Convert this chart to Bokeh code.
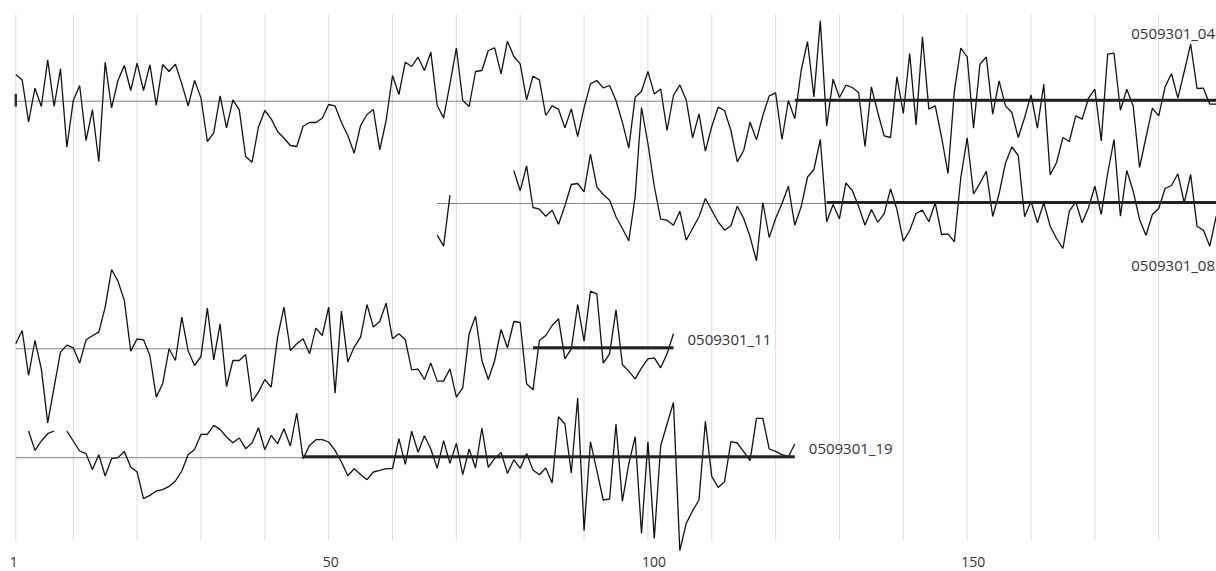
import numpy as np
from bokeh.plotting import figure
from bokeh.models import Range1d
from bokeh.embed import file_html
from bokeh.resources import INLINE
from bokeh.core.properties import value

nan = float("nan")

# ---------------- data ----------------
series_names = ["0509301_04", "0509301_08", "0509301_11", "0509301_19"]
series_first_index = [1, 67, 1, 3]          # first sample index of each series
phase_start = [123, 128, 82, 46]            # start of the second phase (thick line)
baseline_start = [1, 67, 1, 1]
baseline_end = [189.05, 189.05, 104, 123]

s04 = [26.7, 21.3, -20.7, 13, -5.3, 41.3, -5.3, 32.3, -46, 0.7,
       15.7, -39.3, -8.7, -60.3, 39, -6.7, 20.7, 35.7, 10.7, 38,
       10.7, 36.3, -4, 36.7, 29.7, 37, 17.3, -4.7, 20.7, 3.3,
       -40.3, -31.7, 5.3, -26.7, 1.3, -8.7, -55.3, -61, -26, -9.3,
       -17.7, -30.3, -37, -44.3, -45.3, -25, -21.3, -21.3, -17, -3.3,
       -4.7, -21.3, -34.3, -52, -24.3, -13.3, -8.3, -48.7, -19.3, 25.7,
       6.7, 39, 34.7, 44, 30.7, 49, -4.3, -16.7, 17.3, 53,
       0.7, -5.3, 29.7, 30.7, 50.7, 53.3, 27.3, 60, 44.7, 37.3,
       1.3, 25, 21.3, -14.3, -4.7, -8, -26.7, -7.7, -35.3, -6.7,
       17.3, 20.7, 13.3, 15.7, 0.7, -21, -47, 4, 10, 29.7,
       7.3, 12.3, -29.3, 5.7, 16.3, 1.3, -36.7, -12.7, -50, -25.3,
       -6, -9.3, -29.3, -60.7, -49.3, -21, -38.7, -14.3, 5.3, 8.3,
       -38.3, 0.7, -17.7, 30.7, 59.7, 4.3, 80.3, -24.7, 22, 3.7,
       16, 13.7, 8.7, -45.3, 14.3, -11.3, -34.7, -36.3, 24.3, -12.3,
       47.7, -23.7, 64.3, -8, -4.7, -36.3, -72.3, 10.3, 53, 44.3,
       -27, 37, 44.3, -13, 20.3, -4.7, -11.3, -36.3, -16.3, 6.3,
       -27, 17, -73.7, -61.3, -36.3, -40.3, -14.7, -18, 3, 12,
       -39.7, 47, 48, -9, 12, -4.7, -66.3, -36.3, -7, -14.7,
       14.3, 27.7, 3, 29.7, 57, 12.7, 13, -3, -3]

s08 = [-31.7, -42.7, 8.3, nan, nan, nan, nan, nan, nan, nan,
       nan, nan, 32.7, 12.7, 37.7, -4, -5.7, -12.7, -6.7, -20.7,
       -2.3, 19, 20, 11.7, 49.3, 16.7, 9, 3.3, -13.3, -25,
       -37.3, 6.7, 96, 60, 17, -15.7, -16.7, -21.7, -7.7, -36.7,
       -25, -13.3, 5, -6.7, -18.3, -26.7, -22.3, -2.7, -15, -33.3,
       -57.3, 1, -34, -15, 0, 17.3, -21.7, -3.3, 26.5, 34,
       64, -18.3, -1, -15.3, 20.7, 13, -2.7, -21.7, -6, -18.7,
       -10.3, 14.7, -6, -37.7, -27, -10, -6.7, -18.3, 0.7, -31,
       -30.3, -38.3, 25.7, 65.7, 9.5, 20.3, 32.3, -13, 9.7, 40.3,
       56.7, 48, -13.3, 2.3, -19.3, 0.7, -22.7, -35, -45, -7.7,
       1.7, -19.3, -4.3, 17.3, -11, 30, 64, -12.7, 33, 12.3,
       -16, -31.7, -11, -5, 15, 18, 29.7, 0.7, 29, -22.7,
       -26.7, -42.7, -12.7]

s11 = [5, 18.3, -26.7, 8.3, -20, -74, -38.3, -3.3, 3.7, 1,
       -14.3, 9, 13, 16.7, 41.7, 79.3, 67.7, 48.3, -2.3, 10,
       9, -6.7, -48.3, -35, 0, -11.7, 31.7, -2.3, -16.7, -7.7,
       40.7, -11, 25, -37.7, -11.7, -11.7, -5.7, -52.7, -43.3, -30.7,
       -38.3, 11.7, 41.7, -1.7, 5, 10, -5, 20.7, 13.3, 41.7,
       -44.3, 37.7, -13.3, 1.7, 11.7, 44.3, 21.7, 27.3, 45.7, 10,
       15, 9, -21, -20.3, -30.7, -14.3, -32.3, -32.3, -20, -48.3,
       -39, 15, 32.7, -11.7, -30.7, -11.7, 19.3, 1, 27.3, 26.3,
       -35, -41, 8.3, 13.3, 23.3, 30, -10, 0, 44.3, 7.7,
       57.7, 55, -14.3, -5, 39, -15.7, -22.3, -30, -19, -10,
       -9, -19, -5, 15]

s19 = [26.7, 7.3, 16.7, 24, 26.7, nan, 26.7, 16.7, 6.7, 4,
       -11.7, 3, -18.3, -1, 0, 6.3, -9.3, -14.3, -41, -37.7,
       -33.3, -32, -28.7, -23.3, -13.3, 3.3, 8.3, 23.3, 23.3, 32.3,
       28.3, 20.7, 15, 19.7, 9, 14.7, 30, 8, 22.3, 14,
       29, 11.7, 44.7, -1, 12.3, 18, 18, 15.7, 7.3, -4.3,
       -18, -11, -16.7, -22, -14.3, -12.7, -11, -11, 19, -6.7,
       26.5, 5.5, 22, 8.7, -10.7, 17, -5.7, 14.3, -17, 8.7,
       -10.3, 29.7, -9.7, -0.7, 5.3, -15.7, -2, -10.7, 4.3, -12.3,
       -17, -10.3, -25.3, 41, 33.7, -15.3, 59.7, -73, 16, -13,
       -42.3, -41.3, 33.7, -43.7, -6.3, 21, -75.7, 16, -80.7, 12,
       33.7, 55.3, -93, -65.7, -53, -42.3, 36.3, -18.7, -29.7, -24,
       16, 14.7, 6, -3, 39.3, 39.3, 8.7, 6.3, 3, 1,
       13.7]

series_values = [s04, s08, s11, s19]

tick_values = [1, 50, 100, 150]
tick_labels = ["1", "50", "100", "150"]
grid_values = [1, 10, 20, 30, 40, 50, 60, 70, 80, 90, 100, 110, 120, 130,
               140, 150, 160, 170, 180]

# ---------------- layout ----------------
W, H = 1216, 571
base_y = [470.3, 368.0, 222.7, 113.8]       # vertical placement of each row
label_x = [175.7, 175.7, 106.2, 125.2]
label_dy = [68.7, -61.0, 9.8, 10.2]
grid_bottom, grid_top = 31, 557
tick_label_y = 10

FONT = value("Open Sans")

p = figure(width=W, height=H, output_backend="svg", toolbar_location=None,
           x_range=Range1d(-1.396, 189.05), y_range=Range1d(0, H),
           x_axis_location=None, y_axis_location=None,
           min_border=0, min_border_left=0, min_border_right=0,
           min_border_top=0, min_border_bottom=0)
p.grid.visible = False
p.outline_line_color = None
p.background_fill_color = "white"
p.border_fill_color = "white"

# vertical grid lines
n = len(grid_values)
p.segment(x0=grid_values, x1=grid_values, y0=[grid_bottom] * n, y1=[grid_top] * n,
          line_color="#dcdcdc", line_width=1)

# thin baselines
p.segment(x0=baseline_start, x1=baseline_end, y0=base_y, y1=base_y,
          line_color="#808080", line_width=1)

# series lines
for vals, first, by in zip(series_values, series_first_index, base_y):
    xs = np.arange(first, first + len(vals), dtype=float)
    ys = by + np.array(vals, dtype=float)
    p.line(xs, ys, line_color="#111111", line_width=1.3)

# thick phase lines
thick_y = [b + 1 for b in base_y]
p.segment(x0=phase_start, x1=baseline_end, y0=thick_y, y1=thick_y,
          line_color="#222222", line_width=3)

# small start marker on first row
p.segment(x0=[1], x1=[1], y0=[base_y[0] - 5.3], y1=[base_y[0] + 7.3],
          line_color="#333333", line_width=2.5)

# series labels
p.text(x=label_x, y=[b + d for b, d in zip(base_y, label_dy)], text=series_names,
       text_font=FONT, text_font_size="15px", text_color="#333333",
       text_align="left", text_baseline="middle")

# x tick labels
p.text(x=tick_values, y=[tick_label_y] * len(tick_values), text=tick_labels,
       x_offset=-6, text_font=FONT, text_font_size="14px", text_color="#333333",
       text_align="left", text_baseline="middle")

open("out.html", "w").write(file_html(p, INLINE))
